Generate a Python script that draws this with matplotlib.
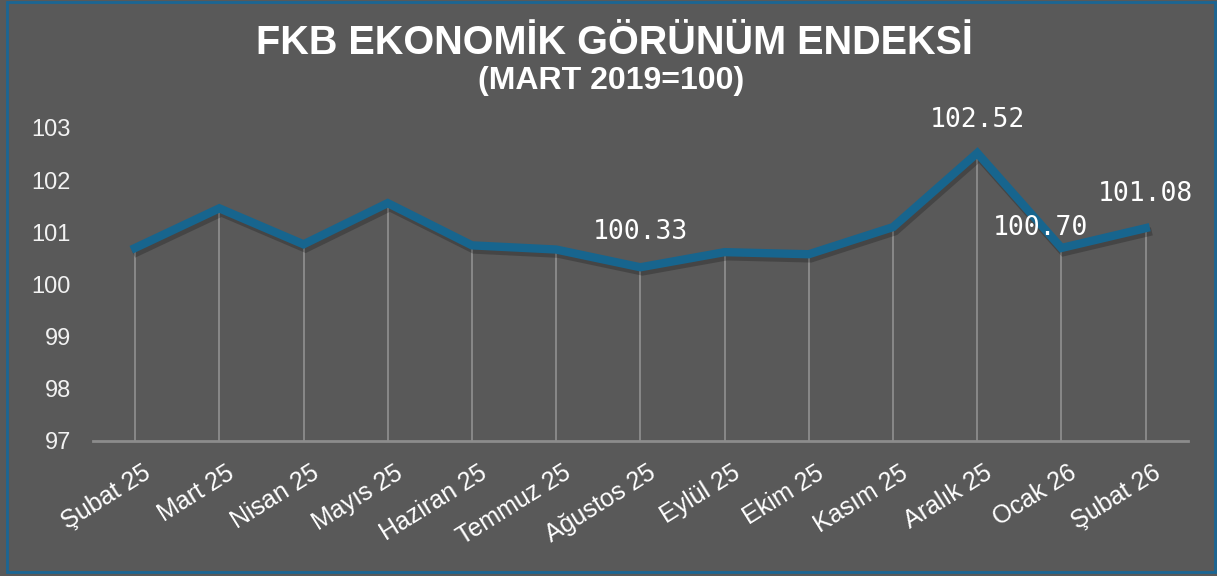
import matplotlib.pyplot as plt
import matplotlib.patheffects as pe
from matplotlib.patches import Rectangle

# FKB economic outlook index, monthly values
months = ["Şubat 25", "Mart 25", "Nisan 25", "Mayıs 25", "Haziran 25", "Temmuz 25",
          "Ağustos 25", "Eylül 25", "Ekim 25", "Kasım 25", "Aralık 25", "Ocak 26", "Şubat 26"]
values = [100.70, 101.46, 100.77, 101.56, 100.75, 100.67,
          100.33, 100.62, 100.58, 101.10, 102.52, 100.70, 101.08]
# only some points carry a value label: (index, label)
labelled = [(6, "100.33"), (10, "102.52"), (11, "100.70"), (12, "101.08")]
label_offsets = {6: (0, 35), 10: (0, 33), 11: (-21, 20), 12: (0, 34)}

bg = "#595959"
line_col = "#17658e"
grid_col = "#8c8c8c"

fig = plt.figure(figsize=(12.17, 5.76), dpi=100, facecolor=bg)
ax = fig.add_axes([0.0764, 0.2344, 0.8996, 0.5434], facecolor=bg)

x = list(range(len(months)))

ax.vlines(x, 97, values, color=grid_col, lw=1.3, zorder=1)
ax.plot(x, values, color=line_col, lw=6, solid_joinstyle="miter", zorder=3,
        path_effects=[pe.SimpleLineShadow(offset=(1.5, -3), shadow_color="black", alpha=0.22),
                      pe.Normal()])

for i, txt in labelled:
    ax.annotate(txt, (x[i], values[i]), xytext=label_offsets[i], textcoords="offset pixels",
                ha="center", va="center", color="white", fontsize=19,
                family="DejaVu Sans Mono", zorder=5)

ax.set_xlim(-0.5, len(months) - 0.5)
ax.set_ylim(97, 103)
ax.set_yticks(range(97, 104))
ax.set_xticks(x)
ax.set_xticklabels([])
# slanted month labels, placed a little right of each tick like the original
for i, m in zip(x, months):
    ax.annotate(m, (i, 0), xycoords=ax.get_xaxis_transform(), xytext=(13, -30),
                textcoords="offset pixels", rotation=32, ha="right", va="center",
                rotation_mode="anchor", fontsize=18, family="Liberation Sans",
                color="white", annotation_clip=False)
for lab in ax.get_yticklabels():
    lab.set_family("Liberation Sans")
ax.tick_params(axis="y", length=0, pad=16, labelsize=17, labelcolor="#f2f2f2")
ax.tick_params(axis="x", length=0)

for s in ["top", "right", "left"]:
    ax.spines[s].set_visible(False)
ax.spines["bottom"].set_color(grid_col)
ax.spines["bottom"].set_linewidth(2)

fig.text(0.505, 0.925, "FKB EKONOMİK GÖRÜNÜM ENDEKSİ", ha="center", va="center",
         fontsize=28.5, fontweight="bold", family="Liberation Sans", color="white")
fig.text(0.502, 0.859, "(MART 2019=100)", ha="center", va="center",
         fontsize=23, fontweight="bold", family="Liberation Sans", color="white")

fig.patches.append(Rectangle((7 / 1217, 4.5 / 576), 1208 / 1217, 570 / 576,
                             transform=fig.transFigure, fill=False,
                             edgecolor="#1b6694", lw=2, zorder=10))

fig.savefig("out.png", dpi=100, facecolor=bg)
